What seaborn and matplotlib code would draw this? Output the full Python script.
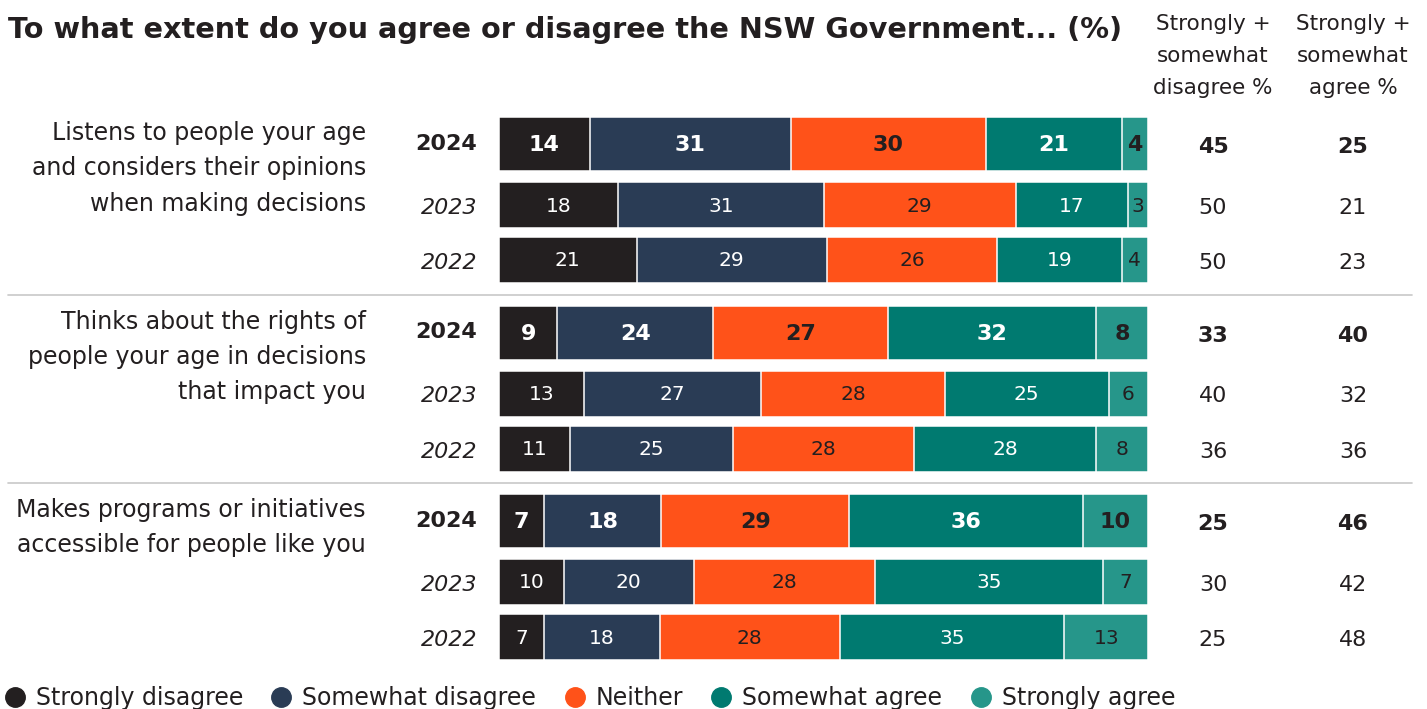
import numpy as np
import pandas as pd
import matplotlib
matplotlib.use("Agg")
import matplotlib.pyplot as plt
from matplotlib.lines import Line2D
from matplotlib.transforms import blended_transform_factory
import seaborn as sns

# ---------------- data ----------------
title = "To what extent do you agree or disagree the NSW Government... (%)"
categories = [
    "Listens to people your age\nand considers their opinions\nwhen making decisions",
    "Thinks about the rights of\npeople your age in decisions\nthat impact you",
    "Makes programs or initiatives\naccessible for people like you",
]
years = ["2024", "2023", "2022"]
levels = ["Strongly disagree", "Somewhat disagree", "Neither", "Somewhat agree", "Strongly agree"]
strongly_disagree = [14, 18, 21, 9, 13, 11, 7, 10, 7]
somewhat_disagree = [31, 31, 29, 24, 27, 25, 18, 20, 18]
neither = [30, 29, 26, 27, 28, 28, 29, 28, 28]
somewhat_agree = [21, 17, 19, 32, 25, 28, 36, 35, 35]
strongly_agree = [4, 3, 4, 8, 6, 8, 10, 7, 13]
disagree_total = [45, 50, 50, 33, 40, 36, 25, 30, 25]
agree_total = [25, 21, 23, 40, 32, 36, 46, 42, 48]
header_disagree = "Strongly +\nsomewhat\ndisagree %"
header_agree = "Strongly +\nsomewhat\nagree %"

colors = ["#231f20", "#2a3c55", "#ff5219", "#007a70", "#26968a"]
label_colors = ["white", "white", "#231f20", "white", "#231f20"]
DARK = "#231f20"

# ---------------- figure ----------------
sns.set_theme(style="white")
plt.rcParams["font.family"] = ["DejaVu Sans"]

W, H = 1427, 709
fig = plt.figure(figsize=(W / 100, H / 100), dpi=100)
fig.patch.set_facecolor("white")

def fx(px):
    return px / W

def fy(px):
    return 1 - px / H

ax = fig.add_axes([fx(499), 0, fx(1148) - fx(499), 1])
trans = blended_transform_factory(fig.transFigure, ax.transData)

values = np.array([strongly_disagree, somewhat_disagree, neither, somewhat_agree, strongly_agree], dtype=float).T
year_offsets = [0, 61, 116]
bar_heights = [54, 46, 46]

for g in range(len(categories)):
    base = 144 + g * 188.5
    for yi in range(len(years)):
        r = g * 3 + yi
        pos = base + year_offsets[yi]
        row = values[r]
        widths = row / row.sum() * 100
        cum = np.cumsum(widths)
        df_row = pd.DataFrame({"cat": levels, "cum": cum, "pos": [pos] * 5})
        sns.barplot(
            data=df_row, x="cum", y="pos", hue="cat",
            hue_order=levels[::-1],
            palette=dict(zip(levels, colors)),
            orient="y", native_scale=True, dodge=False,
            width=bar_heights[yi], edgecolor="white", linewidth=1.1,
            legend=False, ax=ax, saturation=1,
        )
        bold = yi == 0
        for k in range(5):
            cx = cum[k] - widths[k] / 2
            ax.text(cx, pos + 1, f"{int(row[k])}", ha="center", va="center",
                    color=label_colors[k], fontsize=16 if bold else 14.5,
                    fontweight="bold" if bold else "normal")
        # year label
        ax.text(fx(477), pos + (0 if bold else 3), years[yi], transform=trans,
                ha="right", va="center", color=DARK, fontsize=16,
                fontweight="bold" if bold else "normal",
                fontstyle="normal" if bold else "italic")
        # totals
        for xc, val in ((1213, disagree_total[r]), (1353, agree_total[r])):
            ax.text(fx(xc), pos + 3, f"{val}", transform=trans, ha="center", va="center",
                    color=DARK, fontsize=16, fontweight="bold" if bold else "normal")
    # category label (top of text block)
    ax.text(fx(366), base - 23, categories[g], transform=trans, ha="right", va="top",
            color=DARK, fontsize=17, linespacing=1.6)

ax.set_xlim(0, 100)
ax.set_ylim(H, 0)
ax.axis("off")

# separators
for ysep in (295, 483):
    fig.add_artist(Line2D([fx(8), fx(1412)], [fy(ysep), fy(ysep)], color="#c8c8c8", lw=1.2))

# headers
for xc, txt in ((1213, header_disagree), (1353, header_agree)):
    fig.text(fx(xc), fy(14), txt, ha="center", va="top", color=DARK, fontsize=15.5, linespacing=1.75)

# title
fig.text(fx(8), fy(30), title, ha="left", va="center", color=DARK, fontsize=20.7, fontweight="bold")

# legend
handles = [Line2D([], [], marker="o", ls="", color=c, markersize=14) for c in colors]
fig.legend(handles, levels, loc="center left", bbox_to_anchor=(fx(3), fy(698)), ncol=5,
           frameon=False, fontsize=17, handletextpad=0.39, columnspacing=1.12,
           borderaxespad=0, borderpad=0, handlelength=1.0, labelcolor=DARK)

fig.savefig("out.png", dpi=100, facecolor="white")
